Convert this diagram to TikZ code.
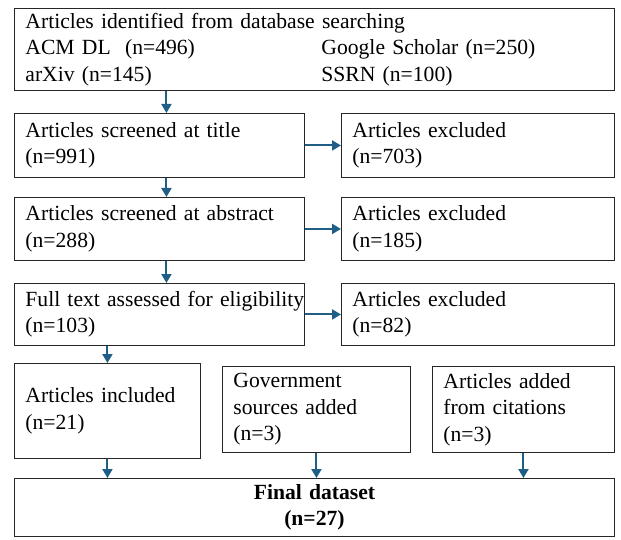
\documentclass[tikz,border=0pt]{standalone}
\usepackage{fontspec}
\setmainfont{Liberation Serif}
\usetikzlibrary{arrows.meta}
\definecolor{arrowblue}{HTML}{1F5F85}

\begin{document}
\begin{tikzpicture}[x=1bp, y=-1bp,
        box/.style={draw=black!85, line width=0.9bp, anchor=north west, inner xsep=11bp, inner ysep=0pt, align=left, font=\fontsize{21.7}{26.5}\selectfont},
        flow/.style={-{Triangle[length=9bp, width=10bp]}, draw=arrowblue, line width=2bp},
]
        \useasboundingbox (0,0) rectangle (621,540);

        \node[box, minimum width=600bp, minimum height=82bp, text width=578bp] (search) at (14,8)
            {Articles identified from database searching\\
             \makebox[296bp][l]{ACM DL\ \ (n=496)}Google Scholar (n=250)\\
             \makebox[296bp][l]{arXiv (n=145)}SSRN (n=100)};
        \node[box, minimum width=290bp, minimum height=64bp, text width=268bp] (title) at (14,113) {Articles screened at title\\(n=991)};
        \node[box, minimum width=273bp, minimum height=64bp, text width=251bp] (excltitle) at (341,113) {Articles excluded\\(n=703)};
        \node[box, minimum width=290bp, minimum height=63bp, text width=268bp] (abstract) at (14,197) {Articles screened at abstract\\(n=288)};
        \node[box, minimum width=273bp, minimum height=63bp, text width=251bp] (exclabstract) at (341,197) {Articles excluded\\(n=185)};
        \node[box, minimum width=290bp, minimum height=62bp, text width=268bp] (fulltext) at (14,283) {\makebox[268bp][l]{Full text assessed for eligibility}\\(n=103)};
        \node[box, minimum width=273bp, minimum height=62bp, text width=251bp] (exclfull) at (341,283) {Articles excluded\\(n=82)};
        \node[box, minimum width=186bp, minimum height=95bp, text width=164bp] (included) at (14,363) {Articles included\\(n=21)};
        \node[box, minimum width=188bp, minimum height=86bp, text width=166bp] (government) at (222,366) {Government\\sources added\\(n=3)};
        \node[box, minimum width=182bp, minimum height=86bp, text width=160bp] (citations) at (432,366) {Articles added\\from citations\\(n=3)};
        \node[box, minimum width=600bp, minimum height=58bp, text width=578bp, align=center] (final) at (14,478) {\textbf{Final dataset}\\\textbf{(n=27)}};

        \draw[flow] ([xshift=7bp]title.north |- search.south) -- ([xshift=7bp]title.north);
        \draw[flow] ([xshift=7bp]abstract.north |- title.south) -- ([xshift=7bp]abstract.north);
        \draw[flow] ([xshift=7bp]fulltext.north |- abstract.south) -- ([xshift=7bp]fulltext.north);
        \draw[flow] (included.north |- fulltext.south) -- (included.north);
        \draw[flow] (title.east) -- (excltitle.west);
        \draw[flow] (abstract.east) -- (exclabstract.west);
        \draw[flow] (fulltext.east) -- (exclfull.west);
        \draw[flow] (included.south) -- (included.south |- final.north);
        \draw[flow] (government.south) -- (government.south |- final.north);
        \draw[flow] (citations.south) -- (citations.south |- final.north);
    \end{tikzpicture}
\end{document}
